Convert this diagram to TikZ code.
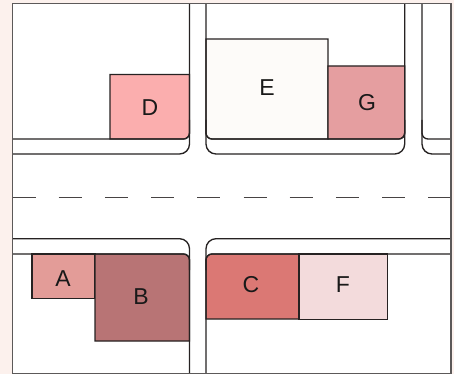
\documentclass[tikz,border=0pt]{standalone}
\usepackage{fontspec}
\setmainfont{Liberation Sans}
\definecolor{strip}{HTML}{FCF1ED}
\definecolor{ink}{HTML}{262222}
\definecolor{lotA}{HTML}{E39C98}
\definecolor{lotB}{HTML}{B87475}
\definecolor{lotC}{HTML}{DB7874}
\definecolor{lotD}{HTML}{FBAEAE}
\definecolor{lotE}{HTML}{FDFBF9}
\definecolor{lotF}{HTML}{F3DBDC}
\definecolor{lotG}{HTML}{E59EA0}
\tikzset{
  road/.style={draw=ink,line width=1.35pt},
  outerroad/.style={road,rounded corners=10pt},
  innerroad/.style={road,rounded corners=6pt},
  frameline/.style={draw=ink!75,line width=1.3pt},
  lot/.style={draw=ink,line width=1.25pt},
  lotlabel/.style={font=\fontsize{23}{23}\selectfont,text=black!90,inner sep=0pt},
  centreline/.style={draw=ink!85,line width=1.4pt,dash pattern=on 23pt off 23.2pt}
}
\begin{document}
\begin{tikzpicture}[x=1pt,y=-1pt]
\useasboundingbox (0,0) rectangle (454,374);
\fill[strip] (0,0) rectangle (454,374);
\fill[white] (12.5,3.5) rectangle (451,373.5);
% lots
\path[lot,fill=lotD] (110,139) -- (110,74.5) -- (189.5,74.5) [rounded corners=6pt] -- (189.5,139) [sharp corners] -- cycle;
\path[lot,fill=lotE] (328,139) -- (328,39) -- (206,39) [rounded corners=6pt] -- (206,139) [sharp corners] -- cycle;
\path[lot,fill=lotG] (328,139) -- (328,66) -- (404.7,66) [rounded corners=6pt] -- (404.7,139) [sharp corners] -- cycle;
\path[lot,fill=lotA] (32,254) rectangle (95,298.7);
\path[lot,fill=lotB] (95,341) -- (95,254) [rounded corners=6pt] -- (189.5,254) [sharp corners] -- (189.5,341) -- cycle;
\path[lot,fill=lotC] (299,254) [rounded corners=6pt] -- (206,254) [sharp corners] -- (206,319) -- (299,319) -- cycle;
\path[lot,fill=lotF] (299,254) rectangle (387.7,319.5);
% roads
\path[innerroad] (12.5,139) -- (189.5,139) -- (189.5,120);
\path[outerroad] (12.5,154) -- (189.5,154) -- (189.5,3.5);
\path[outerroad] (206,3.5) -- (206,154) -- (404.7,154) -- (404.7,3.5);
\path[innerroad] (206,120) -- (206,139) -- (404.7,139) -- (404.7,120);
\path[outerroad] (422,3.5) -- (422,154) -- (451,154);
\path[innerroad] (422,120) -- (422,139) -- (451,139);
\path[outerroad] (12.5,238.7) -- (189.5,238.7) -- (189.5,373.5);
\path[innerroad] (12.5,254) -- (189.5,254) -- (189.5,270);
\path[outerroad] (206,373.5) -- (206,238.7) -- (451,238.7);
\path[innerroad] (206,270) -- (206,254) -- (451,254);
\path[centreline] (12.5,197.7) -- (451,197.7);
% frame
\path[frameline] (12.5,3.5) rectangle (451,373.5);
% labels
\node[lotlabel] (labelA) at (63,279) {A};
\node[lotlabel] (labelB) at (141,296.5) {B};
\node[lotlabel] (labelC) at (251,285) {C};
\node[lotlabel] (labelD) at (150,107.5) {D};
\node[lotlabel] (labelE) at (267,88) {E};
\node[lotlabel] (labelF) at (343,285) {F};
\node[lotlabel] (labelG) at (367,103) {G};
\end{tikzpicture}
\end{document}
